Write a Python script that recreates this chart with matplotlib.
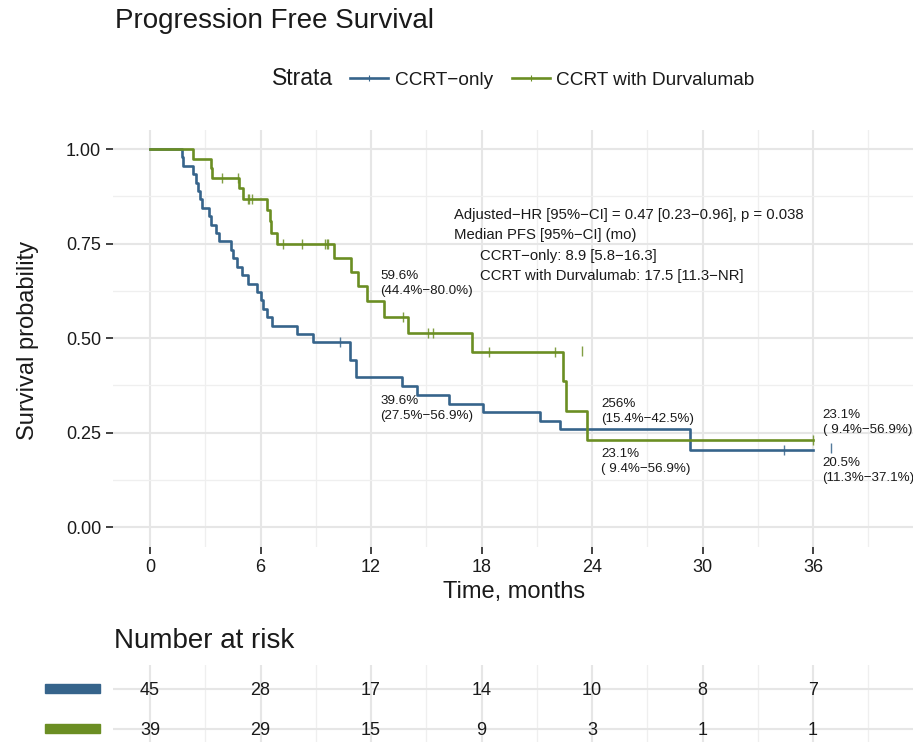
import numpy as np
import matplotlib
matplotlib.use('Agg')
import matplotlib.pyplot as plt
from matplotlib.lines import Line2D
from matplotlib.patches import Rectangle

plt.rcParams['font.family'] = ['Liberation Sans', 'DejaVu Sans']

# ---------------- data ----------------
groups = ['CCRT\u2212only', 'CCRT with Durvalumab']
colors = ['#36648B', '#6B8E23']

only_t = [0, 1.72, 1.77, 2.35, 2.50, 2.62, 2.71, 2.82, 3.20, 3.29, 3.56, 3.76,
          4.38, 4.48, 4.75, 4.98, 5.34, 5.83, 6.01, 6.12, 6.36, 6.62, 7.97, 8.85,
          10.86, 11.21, 13.66, 14.48, 16.25, 18.06, 21.17, 22.26, 29.30]
only_s = [1.0, 0.978, 0.956, 0.933, 0.911, 0.889, 0.867, 0.844, 0.822, 0.800, 0.778, 0.756,
          0.733, 0.711, 0.689, 0.667, 0.644, 0.622, 0.600, 0.578, 0.556, 0.533, 0.511, 0.489,
          0.443, 0.396, 0.373, 0.349, 0.326, 0.303, 0.281, 0.258, 0.205]
only_end = 36
only_cens_t = [10.31, 34.4, 36.95]
only_cens_s = [0.489, 0.205, 0.21]

durva_t = [0, 2.35, 3.29, 3.38, 4.85, 5.07, 6.33, 6.51, 6.57, 6.91, 10.0, 10.9,
           11.3, 11.78, 12.7, 14.0, 17.5, 22.4, 22.6, 23.7]
durva_s = [1.0, 0.974, 0.949, 0.923, 0.896, 0.869, 0.839, 0.809, 0.779, 0.749, 0.712, 0.674,
           0.637, 0.599, 0.556, 0.513, 0.462, 0.385, 0.308, 0.231]
durva_end = 36
durva_cens_t = [3.93, 4.76, 5.30, 5.39, 5.52, 7.2, 8.23, 9.5, 9.59, 9.68, 13.75,
                15.07, 15.35, 18.4, 22.0, 23.44, 36.0]
durva_cens_s = [0.923, 0.923, 0.869, 0.869, 0.869, 0.749, 0.749, 0.749, 0.749, 0.749, 0.556,
                0.513, 0.513, 0.462, 0.462, 0.465, 0.231]

risk_times = [0, 6, 12, 18, 24, 30, 36]
risk_only = [45, 28, 17, 14, 10, 8, 7]
risk_durva = [39, 29, 15, 9, 3, 1, 1]

# landmark annotations: (time, surv, line1, line2)
landmarks = [
    (12.49, 0.656, '59.6%', '(44.4%\u221280.0%)'),
    (12.49, 0.325, '39.6%', '(27.5%\u221256.9%)'),
    (24.51, 0.317, '256%', '(15.4%\u221242.5%)'),
    (24.51, 0.185, '23.1%', '( 9.4%\u221256.9%)'),
    (36.51, 0.288, '23.1%', '( 9.4%\u221256.9%)'),
    (36.51, 0.161, '20.5%', '(11.3%\u221237.1%)'),
]
stats_lines = [
    (16.5, 0.815, 'Adjusted\u2212HR [95%\u2212CI] = 0.47 [0.23\u22120.96], p = 0.038'),
    (16.5, 0.762, 'Median PFS [95%\u2212CI] (mo)'),
    (17.89, 0.706, 'CCRT\u2212only: 8.9 [5.8\u221216.3]'),
    (17.89, 0.653, 'CCRT with Durvalumab: 17.5 [11.3\u2212NR]'),
]

# ---------------- figure ----------------
W, H = 913, 742
fig = plt.figure(figsize=(W / 100, H / 100), dpi=100)

def fx(px):
    return px / W

def fy(py):
    return 1 - py / H

txt_col = '#1a1a1a'
grid_major = '#e6e6e6'
grid_minor = '#efefef'

# main KM axes
ax = fig.add_axes([fx(113), fy(547), (913 - 113) / W, (547 - 130) / H])
ax.set_xlim((113 - 150) / 18.42, (913 - 150) / 18.42)
ax.set_ylim((527 - 547) / 378, (527 - 130) / 378)
for sp in ax.spines.values():
    sp.set_visible(False)
ax.set_xticks(np.arange(0, 37, 6))
ax.set_xticks(np.arange(3, 40, 6), minor=True)
ax.set_yticks([0, 0.25, 0.5, 0.75, 1.0])
ax.set_yticks([0.125, 0.375, 0.625, 0.875], minor=True)
ax.set_yticklabels(['0.00', '0.25', '0.50', '0.75', '1.00'])
ax.grid(which='major', color=grid_major, lw=1.5)
ax.grid(which='minor', color=grid_minor, lw=0.9)
ax.set_axisbelow(True)
ax.tick_params(which='major', length=5, width=1.3, color='#333333', labelsize=13,
               labelcolor=txt_col, pad=3.5)
ax.tick_params(which='minor', length=0)

series = [
    (only_t, only_s, only_end, only_cens_t, only_cens_s),
    (durva_t, durva_s, durva_end, durva_cens_t, durva_cens_s),
]
for (t, s, end, ct, cs), col in zip(series, colors):
    ax.step(list(t) + [end], list(s) + [s[-1]], where='post', color=col, lw=1.9, zorder=3)
    ax.plot(ct, cs, ls='none', marker='|', ms=6.5, mew=1.0, color=col, alpha=0.85, zorder=4)

for (tt, ss, l1, l2) in landmarks:
    ax.annotate(l1, xy=(tt, ss), xytext=(0, 0), textcoords='offset pixels',
                ha='left', va='baseline', fontsize=9.6, color=txt_col)
    ax.annotate(l2, xy=(tt, ss), xytext=(0, -15), textcoords='offset pixels',
                ha='left', va='baseline', fontsize=9.6, color=txt_col)
for (tt, ss, line) in stats_lines:
    ax.text(tt, ss, line, ha='left', va='baseline', fontsize=10.75, color=txt_col)

# axis titles
fig.text(fx(514), fy(598), 'Time, months', ha='center', va='baseline', fontsize=17, color=txt_col)
fig.text(fx(28), fy(340), 'Survival probability', ha='center', va='center', rotation=90,
         fontsize=17, color=txt_col)

# title
fig.text(fx(115), fy(28), 'Progression Free Survival', ha='left', va='baseline',
         fontsize=20, color=txt_col)

# legend (manual)
fig.text(fx(272), fy(85), 'Strata', ha='left', va='baseline', fontsize=16.5, color=txt_col)
leg_keys = [(350, 388, 395), (512, 550, 556)]
for (x0, x1, xl), col, lab in zip(leg_keys, colors, groups):
    fig.add_artist(Line2D([fx(x0), fx(x1)], [fy(78), fy(78)], color=col, lw=1.9,
                          transform=fig.transFigure))
    fig.add_artist(Line2D([fx((x0 + x1) / 2)], [fy(78)], marker='|', ms=4, mew=0.8,
                          color=col, transform=fig.transFigure))
    fig.text(fx(xl), fy(85), lab, ha='left', va='baseline', fontsize=13.7, color=txt_col)

# ---------------- risk table ----------------
fig.text(fx(114), fy(648), 'Number at risk', ha='left', va='baseline', fontsize=20, color=txt_col)
axr = fig.add_axes([fx(113), 0, (913 - 113) / W, (742 - 665) / H])
axr.set_xlim(ax.get_xlim())
axr.set_ylim(1 + (742 - 728.5) / 40, 0 - (688.5 - 665) / 40)
for sp in axr.spines.values():
    sp.set_visible(False)
axr.set_xticks(np.arange(0, 37, 6))
axr.set_xticks(np.arange(3, 40, 6), minor=True)
axr.set_yticks([0, 1])
axr.grid(which='major', color=grid_major, lw=1.5)
axr.grid(which='minor', axis='x', color=grid_minor, lw=0.9)
axr.set_axisbelow(True)
axr.tick_params(which='both', length=0, labelbottom=False, labelleft=False)
for row, vals in enumerate([risk_only, risk_durva]):
    for tt, v in zip(risk_times, vals):
        axr.annotate(str(v), xy=(tt, row), xytext=(0, -6.5), textcoords='offset pixels',
                     ha='center', va='baseline', fontsize=13, color=txt_col)

for row, col in enumerate(colors):
    yc = 688 + 40 * row
    fig.add_artist(Rectangle((fx(45), fy(yc + 4.5)), (100 - 45) / W, 9 / H,
                             color=col, transform=fig.transFigure))

fig.savefig('out.png', dpi=100)
